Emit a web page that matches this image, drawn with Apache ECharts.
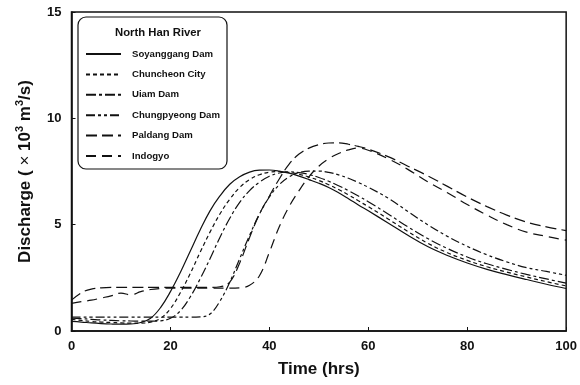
<!DOCTYPE html>
<html>
<head>
<meta charset="utf-8">
<script src="https://cdn.jsdelivr.net/npm/echarts@6/dist/echarts.min.js"></script>
<style>html,body{margin:0;padding:0;background:#fff;}#c{width:580px;height:385px;}</style>
</head>
<body>
<div id="c"></div>
<script>
const hours = [0,2,4,6,8,10,12,14,16,18,20,22,24,26,28,30,32,34,36,38,40,42,44,46,48,50,52,54,56,58,60,64,68,72,76,80,84,88,92,96,100];
const seriesNames = ['Soyanggang Dam','Chuncheon City','Uiam Dam','Chungpyeong Dam','Paldang Dam','Indogyo'];
const soyanggang = [0.45,0.42,0.38,0.35,0.33,0.32,0.33,0.4,0.6,1.1,1.85,2.75,3.75,4.75,5.65,6.35,6.9,7.25,7.47,7.56,7.57,7.52,7.42,7.28,7.12,6.95,6.75,6.5,6.22,5.93,5.65,5.08,4.5,3.97,3.55,3.2,2.9,2.65,2.42,2.2,2.0];
const chuncheon = [0.55,0.5,0.45,0.42,0.4,0.38,0.37,0.37,0.42,0.6,1.05,1.8,2.7,3.7,4.65,5.5,6.2,6.75,7.12,7.35,7.47,7.5,7.46,7.37,7.24,7.08,6.88,6.65,6.4,6.12,5.85,5.27,4.68,4.13,3.68,3.32,3.02,2.77,2.54,2.32,2.12];
const uiam = [0.6,0.58,0.55,0.52,0.5,0.48,0.47,0.46,0.46,0.48,0.6,0.95,1.6,2.45,3.4,4.4,5.3,6.05,6.6,7.0,7.28,7.43,7.48,7.45,7.36,7.22,7.04,6.83,6.6,6.35,6.08,5.5,4.9,4.35,3.88,3.48,3.16,2.9,2.66,2.45,2.25];
const chungpyeong = [0.65,0.65,0.65,0.65,0.65,0.65,0.65,0.65,0.65,0.65,0.65,0.65,0.65,0.66,0.8,1.4,2.3,3.4,4.5,5.5,6.3,6.88,7.25,7.45,7.52,7.52,7.46,7.34,7.18,6.98,6.76,6.25,5.62,5.0,4.45,3.98,3.58,3.25,2.98,2.8,2.62];
const paldang = [1.45,1.8,1.97,2.03,2.05,2.05,2.05,2.05,2.05,2.05,2.05,2.05,2.05,2.05,2.05,2.08,2.3,3.2,4.4,5.5,6.35,7.15,7.85,8.32,8.6,8.76,8.84,8.85,8.78,8.68,8.55,8.2,7.75,7.3,6.8,6.3,5.85,5.45,5.12,4.9,4.72];
const indogyo = [1.3,1.38,1.45,1.55,1.65,1.78,1.7,1.85,1.95,2.0,2.02,2.02,2.02,2.02,2.02,2.02,2.02,2.03,2.15,2.6,3.7,4.9,5.85,6.6,7.25,7.75,8.1,8.35,8.52,8.6,8.5,8.1,7.6,7.02,6.5,5.95,5.45,5.0,4.65,4.45,4.27];
const xTicks = [0,20,40,60,80,100];
const yTicks = [0,5,10,15];

const FONT = 'Arial, "Liberation Sans", sans-serif';
const values = [soyanggang, chuncheon, uiam, chungpyeong, paldang, indogyo];
const dashes = ['solid', [4,3], [10,3,3,3], [9,3,3,3,3,3], [11,5], [10,6]];
const pair = arr => hours.map((h,i)=>[h, arr[i]]);

const chart = echarts.init(document.getElementById('c'), null, {renderer:'canvas'});
chart.setOption({
  animation:false,
  backgroundColor:'#fff',
  grid:{left:71.5, right:12.5, top:12, bottom:54, show:true, borderColor:'#111', borderWidth:1.5, backgroundColor:'transparent'},
  title:{text:'North Han River', left:153, top:22, textAlign:'center',
    textStyle:{fontFamily:FONT, fontSize:11.3, fontWeight:'bold', color:'#111'}},
  graphic:[{type:'rect', shape:{x:78, y:17, width:149, height:152, r:8}, style:{fill:'none', stroke:'#111', lineWidth:1.2}, z:10}],
  legend:{orient:'vertical', left:80, top:43.4, itemWidth:35, itemHeight:14, itemGap:9.2,
    data:seriesNames,
    itemStyle:{color:'transparent', borderWidth:0, opacity:0},
    textStyle:{fontFamily:FONT, fontSize:9.6, fontWeight:'bold', color:'#111', padding:[0,0,0,6]}},
  xAxis:{type:'value', min:0, max:100, interval:20,
    name:'Time (hrs)', nameLocation:'middle', nameGap:30,
    nameTextStyle:{fontFamily:FONT, fontSize:17, fontWeight:'bold', color:'#111'},
    axisLine:{lineStyle:{color:'#111', width:1.6}},
    axisTick:{inside:true, length:4, lineStyle:{color:'#111', width:1}},
    axisLabel:{fontFamily:FONT, fontSize:13, fontWeight:'bold', color:'#111', margin:9},
    splitLine:{show:false}},
  yAxis:{type:'value', min:0, max:15, interval:5,
    name:'Discharge ( {x|×} 10{s|3} m{s|3}/s)', nameLocation:'middle', nameGap:34,
    nameTextStyle:{fontFamily:FONT, fontSize:17, fontWeight:'bold', color:'#111', lineHeight:22,
      rich:{s:{fontFamily:FONT, fontSize:11, fontWeight:'bold', color:'#111', verticalAlign:'top', lineHeight:11},
            x:{fontFamily:FONT, fontSize:17, fontWeight:'normal', color:'#111'}}},
    axisLine:{lineStyle:{color:'#111', width:1.6}},
    axisTick:{inside:true, length:4, lineStyle:{color:'#111', width:1}},
    axisLabel:{fontFamily:FONT, fontSize:13, fontWeight:'bold', color:'#111', margin:10},
    splitLine:{show:false}},
  series: seriesNames.map((n,i)=>({
    name:n, type:'line', data:pair(values[i]), smooth:0.4, symbol:'none',
    lineStyle:{color:'#111', width:1.2, type:dashes[i]},
    itemStyle:{color:'#111'}
  }))
});
</script>
</body>
</html>
